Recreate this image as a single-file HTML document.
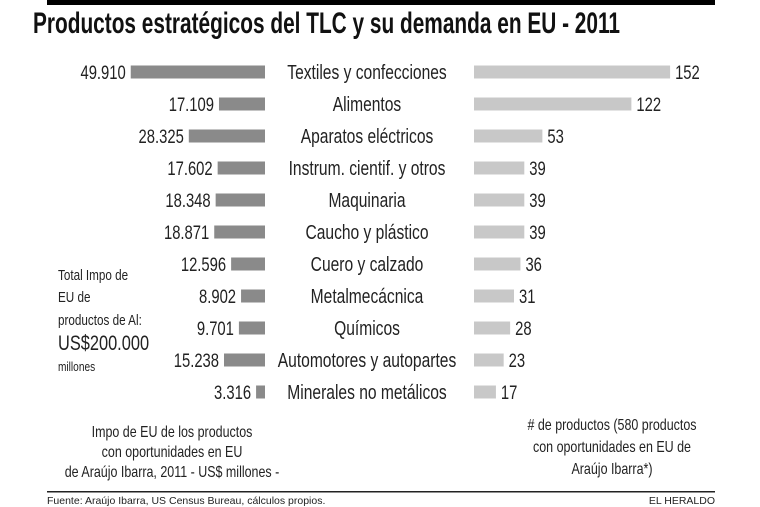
<!DOCTYPE html>
<html><head><meta charset="utf-8"><style>
html,body{margin:0;padding:0;background:#fff;}
svg{display:block;font-family:"Liberation Sans",sans-serif;}
</style></head><body>
<svg id="c" width="760" height="507" viewBox="0 0 760 507">
<rect x="47" y="0" width="668" height="5" fill="#000"/>
<text x="33" y="33" font-size="30" font-weight="bold" fill="#111" textLength="587" lengthAdjust="spacingAndGlyphs">Productos estratégicos del TLC y su demanda en EU - 2011</text>
<g id="bars"></g>
<g font-size="15" fill="#222">
<text transform="translate(58,280) scale(0.78,1)">Total Impo de</text>
<text transform="translate(58,302) scale(0.78,1)">EU de</text>
<text transform="translate(58,325) scale(0.78,1)">productos de Al:</text>
<text transform="translate(58,350) scale(0.78,1)" font-size="21">US$200.000</text>
<text transform="translate(58,371) scale(0.78,1)" font-size="13">millones</text>
</g>
<g font-size="16" fill="#222" text-anchor="middle">
<text transform="translate(172,437) scale(0.78,1)">Impo de EU de los productos</text>
<text transform="translate(172,457) scale(0.78,1)">con oportunidades en EU</text>
<text transform="translate(172,477) scale(0.78,1)">de Araújo Ibarra, 2011 - US$ millones -</text>
</g>
<g font-size="16" fill="#222" text-anchor="middle">
<text transform="translate(612,430) scale(0.78,1)"># de productos (580 productos</text>
<text transform="translate(612,452) scale(0.78,1)">con oportunidades en EU de</text>
<text transform="translate(612,474) scale(0.78,1)">Araújo Ibarra*)</text>
</g>
<rect x="47" y="491" width="668" height="1.5" fill="#222"/>
<text x="47" y="504" font-size="10.5" fill="#222">Fuente: Araújo Ibarra, US Census Bureau, cálculos propios.</text>
<text x="715" y="504" font-size="10.5" fill="#222" text-anchor="end">EL HERALDO</text>
</svg>
<script>
const categories=["Textiles y confecciones","Alimentos","Aparatos eléctricos","Instrum. cientif. y otros","Maquinaria","Caucho y plástico","Cuero y calzado","Metalmecácnica","Químicos","Automotores y autopartes","Minerales no metálicos"];
const importValues=[49910,17109,28325,17602,18348,18871,12596,8902,9701,15238,3316];
const importLabels=["49.910","17.109","28.325","17.602","18.348","18.871","12.596","8.902","9.701","15.238","3.316"];
const productCounts=[152,122,53,39,39,39,36,31,28,23,17];

const NS="http://www.w3.org/2000/svg";
const g=document.getElementById('bars');
const leftEnd=265, rightStart=474, y0=72, step=32, bh=13;
const xLeft=v=>v*0.00269;
const xRight=v=>v*1.29;
function mk(tag,attrs){const e=document.createElementNS(NS,tag);for(const k in attrs)e.setAttribute(k,attrs[k]);g.appendChild(e);return e;}
categories.forEach((c,i)=>{
  const cy=y0+i*step;
  const lw=xLeft(importValues[i]);
  const b1=mk('rect',{x:leftEnd-lw,y:cy-bh/2,width:lw,height:bh,fill:'#8a8a8a'});
  
  
  const t1=mk('text',{transform:`translate(${leftEnd-lw-5},${cy+7}) scale(0.78,1)`,'font-size':19,'text-anchor':'end',fill:'#222'});
  t1.textContent=importLabels[i];
  
  
  const t2=mk('text',{transform:`translate(367,${cy+7}) scale(0.78,1)`,'font-size':20,'text-anchor':'middle',fill:'#222'});
  t2.textContent=c;
  
  
  const rw=xRight(productCounts[i]);
  const b2=mk('rect',{x:rightStart,y:cy-bh/2,width:rw,height:bh,fill:'#c8c8c8'});
  
  
  const t3=mk('text',{transform:`translate(${rightStart+rw+5},${cy+7}) scale(0.78,1)`,'font-size':19,fill:'#222'});
  t3.textContent=productCounts[i];
  
  
});
</script>
</body></html>
